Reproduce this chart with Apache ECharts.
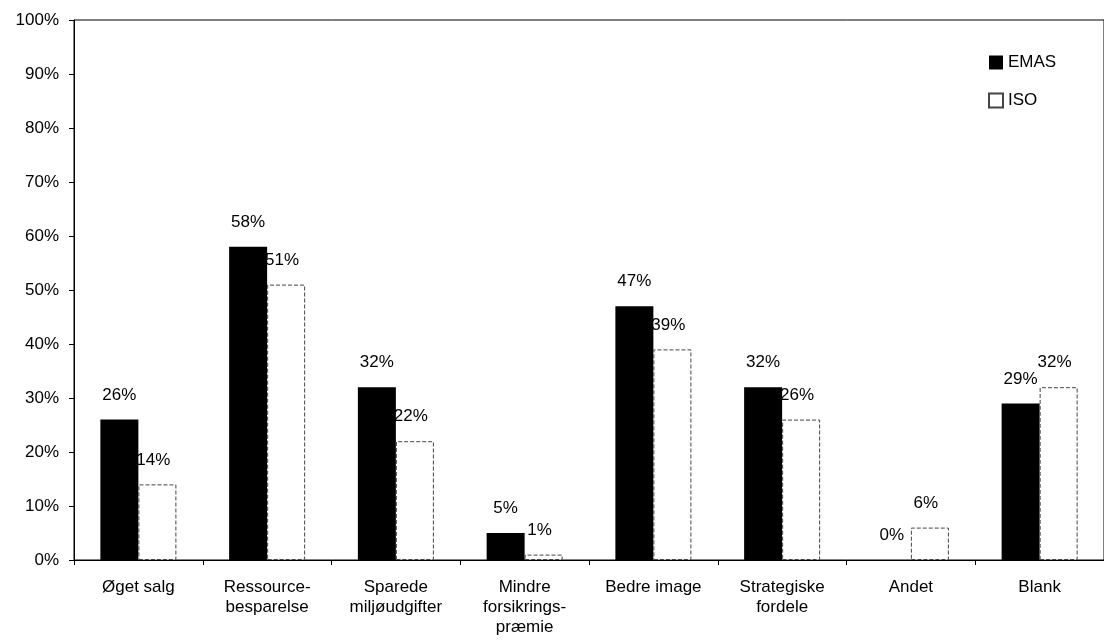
<!DOCTYPE html>
<html><head><meta charset="utf-8">
<script src="https://cdn.jsdelivr.net/npm/echarts@6/dist/echarts.min.js"></script>
<style>html,body{margin:0;padding:0;background:#fff}#c{width:1104px;height:643px}</style>
</head><body><div id="c"></div>
<script>
const categories = ["Øget salg","Ressource-\nbesparelse","Sparede\nmiljøudgifter","Mindre\nforsikrings-\npræmie","Bedre image","Strategiske\nfordele","Andet","Blank"];
const emas = [26,58,32,5,47,32,0,29];
const iso = [14,51,22,1,39,26,6,32];
const yTicks = [0,10,20,30,40,50,60,70,80,90,100];

const font = "'Liberation Sans', Arial, sans-serif";
const chart = echarts.init(document.getElementById('c'));
chart.setOption({
  animation:false,
  textStyle:{fontFamily:font},
  grid:{left:74,top:20,bottom:83,width:1040,show:true,borderColor:'#000',borderWidth:1},
  legend:{
    orient:'vertical', left:983, top:49, itemWidth:14, itemHeight:14, itemGap:21, itemGap:21,
    textStyle:{fontFamily:font,fontSize:17,color:'#000'},
    data:[{name:'EMAS',icon:'rect'},{name:'ISO',icon:'rect'}]
  },
  xAxis:{
    type:'category', data:categories,
    axisLine:{lineStyle:{color:'#000',width:1}},
    axisTick:{show:true,length:5,lineStyle:{color:'#000'}},
    axisLabel:{color:'#000',fontSize:17,fontFamily:font,margin:17,lineHeight:20,interval:0}
  },
  yAxis:{
    type:'value', min:0, max:100, interval:10,
    splitLine:{show:false},
    axisLine:{show:true,lineStyle:{color:'#000',width:1}},
    axisTick:{show:true,length:5,lineStyle:{color:'#000'}},
    axisLabel:{color:'#000',fontSize:17,fontFamily:font,margin:15,
      formatter:v=> yTicks.includes(v) ? v+'%' : ''}
  },
  series:[
    {name:'EMAS',type:'bar',data:emas,barWidth:38,barGap:'0%',
     itemStyle:{color:'#000'},
     label:{show:true,position:'top',distance:16,color:'#000',fontSize:17,fontFamily:font,formatter:'{c}%'}},
    {name:'ISO',type:'bar',data:iso,barWidth:38,
     itemStyle:{color:'#fff',borderColor:'#444',borderWidth:1,borderType:'dashed'},
     label:{show:true,position:'top',distance:16,offset:[-4,0],color:'#000',fontSize:17,fontFamily:font,formatter:'{c}%'}}
  ]
});
</script></body></html>
